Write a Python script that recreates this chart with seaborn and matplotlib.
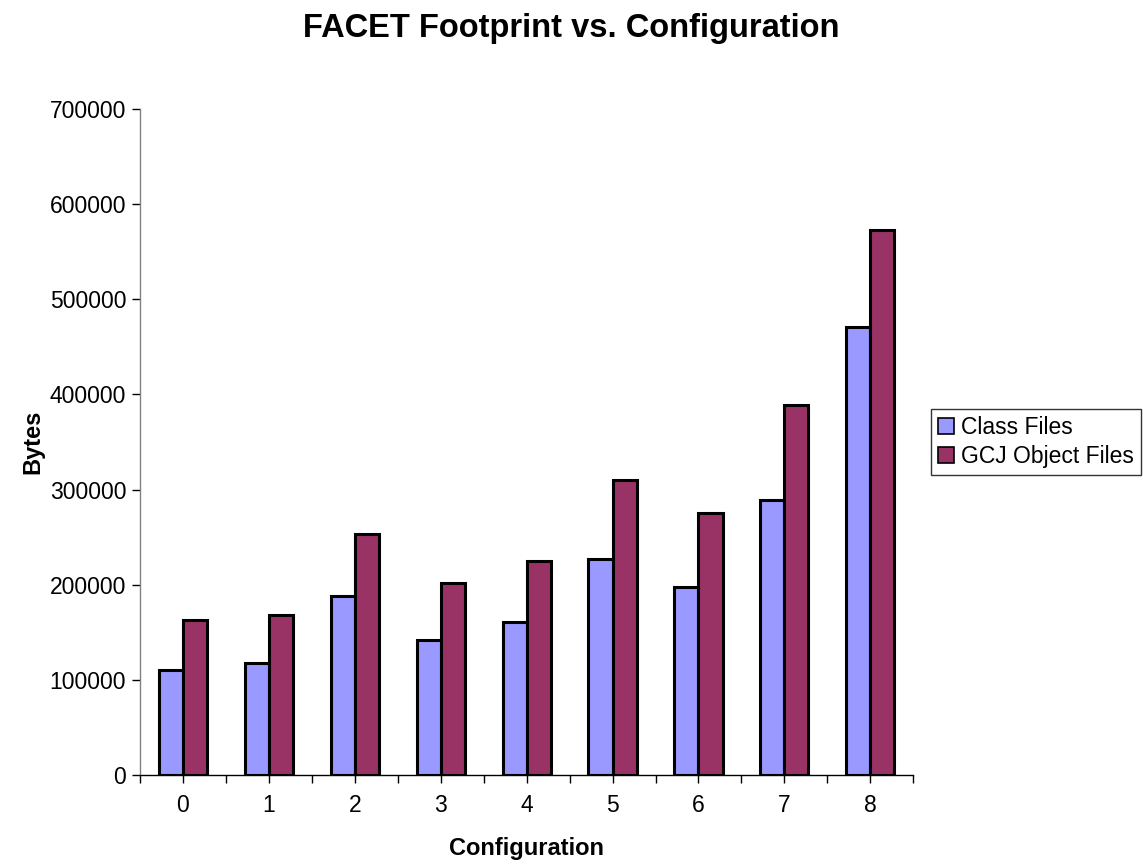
import numpy as np
import pandas as pd
import matplotlib.pyplot as plt
import seaborn as sns

configs = ["0", "1", "2", "3", "4", "5", "6", "7", "8"]
class_files = [110000, 117700, 188500, 141600, 160500, 227000, 197300, 289000, 470500]
gcj_files = [163000, 168500, 253300, 201800, 224600, 309700, 275000, 388900, 572800]
series = ["Class Files", "GCJ Object Files"]
colors = ["#9999FF", "#993366"]

df = pd.DataFrame({
    "Configuration": configs * 2,
    "Bytes": class_files + gcj_files,
    "Series": [series[0]] * len(configs) + [series[1]] * len(configs),
})

sns.set_style("white")
plt.rcParams["font.family"] = ["Liberation Sans", "DejaVu Sans"]
plt.rcParams["text.color"] = "black"
plt.rcParams["axes.labelcolor"] = "black"
plt.rcParams["xtick.color"] = "black"
plt.rcParams["ytick.color"] = "black"

fig = plt.figure(figsize=(11.43, 8.65), dpi=100)
ax = fig.add_axes([0.1225, 0.104, 0.6765, 0.770])

sns.barplot(data=df, x="Configuration", y="Bytes", hue="Series", order=configs,
            hue_order=series, palette=colors, width=0.56, edgecolor="black",
            linewidth=2.2, saturation=1, ax=ax)

ax.set_ylim(0, 700000)
ax.set_xlim(-0.5, 8.5)
ax.set_yticks(np.arange(0, 700001, 100000))
ax.set_yticklabels([str(v) for v in range(0, 700001, 100000)])
ax.set_xticks(np.arange(-0.5, 9, 1), minor=True)
ax.tick_params(axis="both", which="both", direction="out", length=6, width=1,
               color="black", labelcolor="black", labelsize=16.5, bottom=True, left=True)
ax.tick_params(axis="x", which="major", pad=8)
ax.tick_params(axis="y", which="major", pad=4)

for s in ["top", "right"]:
    ax.spines[s].set_visible(False)
for s in ["left", "bottom"]:
    ax.spines[s].set_color("black")
    ax.spines[s].set_linewidth(1)
ax.spines["left"].set_color("#808080")

ax.set_xlabel("Configuration", fontsize=17, fontweight="bold", labelpad=14, color="black")
ax.set_ylabel("Bytes", fontsize=17, fontweight="bold", labelpad=4, color="black")
fig.suptitle("FACET Footprint vs. Configuration", fontsize=23.5, fontweight="bold",
             y=0.985, color="black")

leg = ax.legend(loc="center left", bbox_to_anchor=(931 / 1143, (865 - 442) / 865),
                bbox_transform=fig.transFigure, fontsize=16.5, frameon=True,
                fancybox=False, handlelength=0.7, handleheight=0.7,
                handletextpad=0.3, borderpad=0.3, labelspacing=0.3,
                borderaxespad=0)
leg.get_frame().set_edgecolor("black")
leg.get_frame().set_linewidth(1)
for t in leg.get_texts():
    t.set_color("black")
for h in leg.legend_handles:
    h.set_linewidth(1.2)

fig.savefig("out.png", dpi=100, facecolor="white")
